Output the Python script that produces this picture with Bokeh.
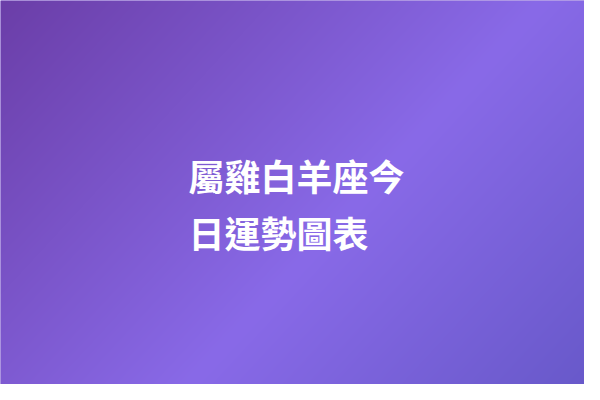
import numpy as np
from bokeh.plotting import figure
from bokeh.models import Range1d
from bokeh.core.properties import value
from bokeh.embed import file_html
from bokeh.resources import INLINE

# Content
title_lines = ["屬雞白羊座今", "日運勢圖表"]

# Background gradient stops (position along diagonal, colour)
grad_pos = [0.0, 0.56, 1.0]
grad_r = [107, 137, 102]
grad_g = [62, 106, 88]
grad_b = [168, 232, 200]

W, H = 584, 384
p = figure(width=W, height=H, output_backend="svg", toolbar_location=None,
           x_range=Range1d(0, W), y_range=Range1d(400 - H, 400), min_border=0)
p.axis.visible = False
p.grid.visible = False
p.outline_line_color = None
p.background_fill_color = "#7a55d0"
p.border_fill_color = "#7a55d0"

# gradient image (page coordinates: px, py with py downward)
px = np.arange(W) + 0.5
py = H - (np.arange(H) + 0.5)
PX, PY = np.meshgrid(px, py)
t = (PX * 400 + PY * 370) / 388000.0
r = np.interp(t, grad_pos, grad_r)
g = np.interp(t, grad_pos, grad_g)
b = np.interp(t, grad_pos, grad_b)
img = np.empty((H, W), dtype=np.uint32)
view = img.view(dtype=np.uint8).reshape((H, W, 4))
view[:, :, 0] = r.astype(np.uint8)
view[:, :, 1] = g.astype(np.uint8)
view[:, :, 2] = b.astype(np.uint8)
view[:, :, 3] = 255
p.image_rgba(image=[img], x=0, y=400 - H, dw=W, dh=H)

line_y = [400 - 174, 400 - 231]
p.text(x=[188, 188], y=line_y, text=title_lines,
       text_font=value("Noto Sans CJK TC"), text_font_style="bold",
       text_font_size="36px", text_color="white",
       text_align="left", text_baseline="middle")

open("out.html", "w").write(file_html(p, INLINE))
